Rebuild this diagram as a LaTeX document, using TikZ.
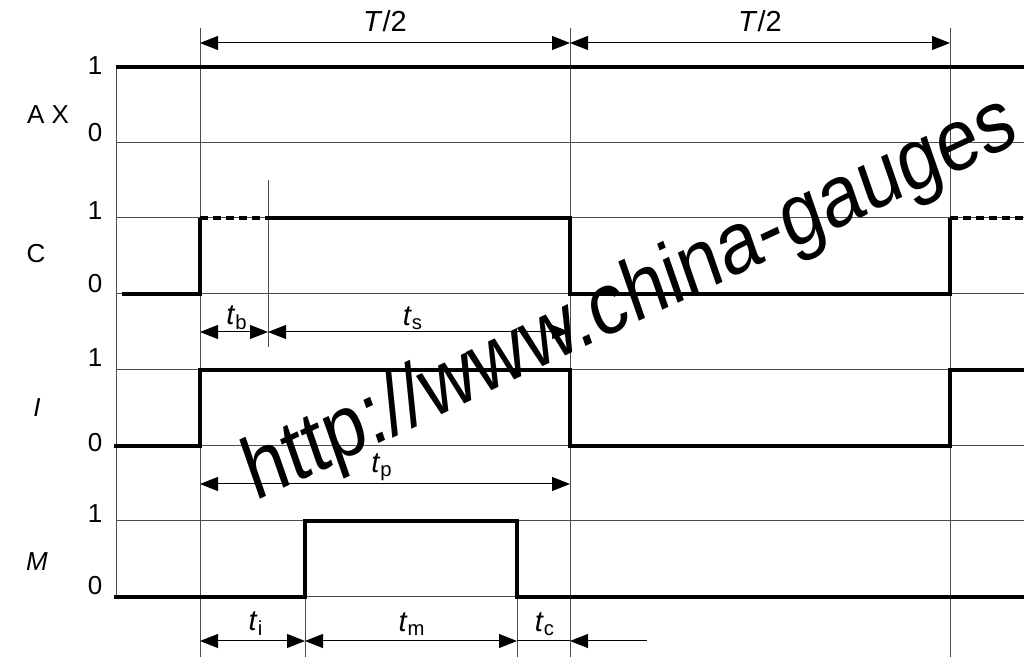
\documentclass[tikz,border=0pt]{standalone}
\usepackage{fontspec}
\setmainfont{Liberation Sans}
\usetikzlibrary{arrows.meta}
\tikzset{
	gridline/.style={color=black!70, line width=0.5pt},
	sig/.style={color=black, line width=1.8pt},
	sigdash/.style={color=black, line width=1.8pt, dash pattern=on 4pt off 2.5pt},
	dimline/.style={<->,>={Triangle[width=7pt,length=9pt]},color=black, line width=0.5pt},
	dimone/.style={->,>={Triangle[width=7pt,length=9pt]},color=black, line width=0.5pt},
	lvl/.style={font=\fontsize{13}{15}\selectfont, inner sep=0pt},
	dimlabel/.style={font=\fontsize{14.5}{16}\selectfont, inner sep=0pt},
	watermark/.style={font=\fontsize{44}{46}\selectfont, xscale=0.86, rotate=22, anchor=base, inner sep=0pt}
}

\begin{document}
\begin{tikzpicture}[x=0.5pt,y=-0.5pt]
		\useasboundingbox (0,0) rectangle (1024,657);
		
		%%%% grid
		\foreach \yy in {67,143,218,294,370,446,521,597}
		\draw[gridline] (116,\yy) -- (1024,\yy);
		\draw[gridline] (116,67) -- (116,597);
		\draw[gridline] (200,28) -- (200,657);
		\draw[gridline] (570,28) -- (570,657);
		\draw[gridline] (950,28) -- (950,657);
		\draw[gridline] (268,180) -- (268,347);
		\draw[gridline] (305,521) -- (305,657);
		\draw[gridline] (517,521) -- (517,657);
		
		%%%% row labels
		\node[lvl] (nAX) at (48,115) {A X};
		\node[lvl] (nAX1) at (95,66) {1};
		\node[lvl] (nAX0) at (95,133) {0};
		\node[lvl] (nC) at (36,254) {C};
		\node[lvl] (nC1) at (95,211) {1};
		\node[lvl] (nC0) at (95,284) {0};
		\node[lvl] (nI) at (37,408) {\textit{I}};
		\node[lvl] (nI1) at (95,358) {1};
		\node[lvl] (nI0) at (95,443) {0};
		\node[lvl] (nM) at (37,562) {\textit{M}};
		\node[lvl] (nM1) at (95,514) {1};
		\node[lvl] (nM0) at (95,586) {0};
		
		%%%% signals
		\draw[sig] (116,67) -- (1024,67);
		\draw[sig] (122,294) -- (200,294) -- (200,218);
		\draw[sigdash] (200,218) -- (268,218);
		\draw[sig] (268,218) -- (570,218) -- (570,294) -- (950,294) -- (950,218);
		\draw[sigdash] (950,218) -- (1024,218);
		\draw[sig] (114,446) -- (200,446) -- (200,370) -- (570,370) -- (570,446) -- (950,446) -- (950,370) -- (1024,370);
		\draw[sig] (114,597) -- (305,597) -- (305,521) -- (517,521) -- (517,597) -- (1024,597);
		
		%%%% dimensions
		\coordinate (hA) at (200,43);
		\coordinate (hB) at (570,43);
		\coordinate (hC) at (950,43);
		\draw[dimline] (hA) -- (hB);
		\draw[dimline] (hB) -- (hC);
		\node[dimlabel] (lhA) at (385,21) {\textit{T}/2};
		\node[dimlabel] (lhB) at (760,21) {\textit{T}/2};
		
		\coordinate (bA) at (200,332);
		\coordinate (bB) at (268,332);
		\coordinate (bC) at (570,332);
		\draw[dimline] (bA) -- (bB);
		\draw[dimline] (bB) -- (bC);
		\node[dimlabel] (ltb) at (237,318) {\textit{t}\textsubscript{b}};
		\node[dimlabel] (lts) at (413,318) {\textit{t}\textsubscript{s}};
		
		\coordinate (pA) at (200,484);
		\coordinate (pB) at (570,484);
		\draw[dimline] (pA) -- (pB);
		\node[dimlabel] (ltp) at (382,467) {\textit{t}\textsubscript{p}};
		
		\coordinate (mA) at (200,641);
		\coordinate (mB) at (305,641);
		\coordinate (mC) at (517,641);
		\coordinate (mD) at (570,641);
		\coordinate (mE) at (647,641);
		\draw[dimline] (mA) -- (mB);
		\draw[dimline] (mB) -- (mC);
		\draw[gridline,color=black] (mC) -- (mD);
		\draw[dimone] (mE) -- (mD);
		\node[dimlabel] (lti) at (256,624) {\textit{t}\textsubscript{i}};
		\node[dimlabel] (ltm) at (412,624) {\textit{t}\textsubscript{m}};
		\node[dimlabel] (ltc) at (545,624) {\textit{t}\textsubscript{c}};
		
		%%%% watermark
		\node[watermark] (wm) at (638,322) {http://www.china-gauges};
	\end{tikzpicture}
\end{document}
